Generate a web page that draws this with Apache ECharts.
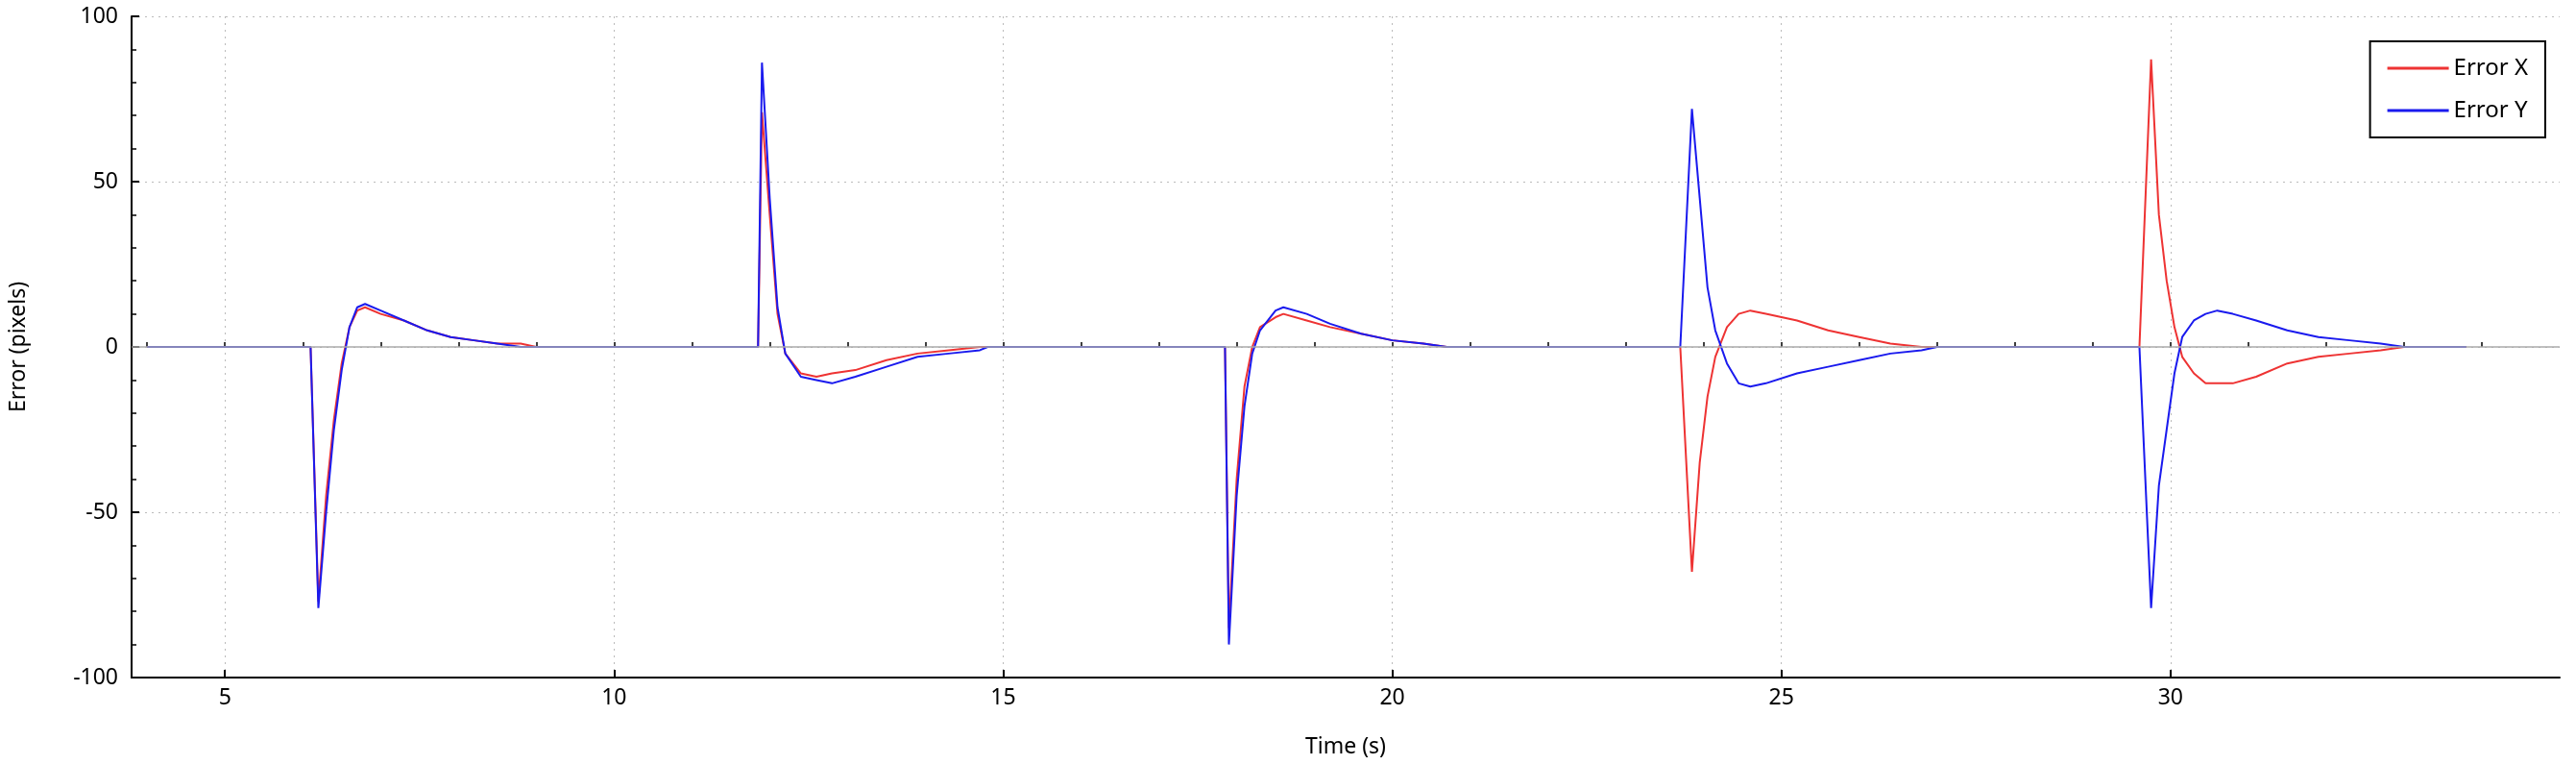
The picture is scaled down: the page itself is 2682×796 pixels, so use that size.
<!DOCTYPE html>
<html lang="en">
<head>
    <meta charset="UTF-8">
    <title>Error</title>
    <script src="https://cdn.jsdelivr.net/npm/echarts@6/dist/echarts.min.js"></script>
</head>
<body style="margin:0">
<div id="main" style="width: 2682px; height: 796px"></div>
</body>
<script>
    let times = [4.0, 6.1, 6.2, 6.3, 6.4, 6.5, 6.6, 6.7, 6.8, 7.0, 7.3, 7.6, 7.9, 8.2, 8.5, 8.8, 9.0,
        11.85, 11.9, 12.0, 12.1, 12.2, 12.4, 12.6, 12.8, 13.1, 13.5, 13.9, 14.3, 14.7, 14.8,
        17.85, 17.9, 18.0, 18.1, 18.2, 18.3, 18.5, 18.6, 18.9, 19.2, 19.6, 20.0, 20.4, 20.7,
        23.7, 23.85, 23.95, 24.05, 24.15, 24.3, 24.45, 24.6, 24.8, 25.2, 25.6, 26.0, 26.4, 26.8, 27.0,
        29.6, 29.75, 29.85, 29.95, 30.05, 30.15, 30.3, 30.45, 30.6, 30.8, 31.1, 31.5, 31.9, 32.3, 32.7, 33.0, 33.8];
    let errorX = [0, 0, -77, -45, -22, -5, 6, 11, 12, 10, 8, 5, 3, 2, 1, 1, 0,
        0, 71, 40, 10, -2, -8, -9, -8, -7, -4, -2, -1, 0, 0,
        0, -85, -40, -12, 0, 6, 9, 10, 8, 6, 4, 2, 1, 0,
        0, -68, -35, -15, -3, 6, 10, 11, 10, 8, 5, 3, 1, 0, 0,
        0, 87, 40, 20, 6, -3, -8, -11, -11, -11, -9, -5, -3, -2, -1, 0, 0];
    let errorY = [0, 0, -79, -50, -25, -7, 6, 12, 13, 11, 8, 5, 3, 2, 1, 0, 0,
        0, 86, 45, 12, -2, -9, -10, -11, -9, -6, -3, -2, -1, 0,
        0, -90, -45, -18, -2, 5, 11, 12, 10, 7, 4, 2, 1, 0,
        0, 72, 45, 18, 5, -5, -11, -12, -11, -8, -6, -4, -2, -1, 0,
        0, -79, -42, -25, -8, 3, 8, 10, 11, 10, 8, 5, 3, 2, 1, 0, 0];
    let majorTicks = [5, 10, 15, 20, 25, 30];
    let minorTicks = [];
    for (let t = 4; t <= 34; t++) minorTicks.push(t);

    let font = 'Noto Sans';
    let myChart = echarts.init(document.getElementById('main'));
    let option = {
        animation: false,
        textStyle: {fontFamily: font},
        grid: {left: 137, right: 17, top: 17, bottom: 91},
        legend: {
            orient: 'vertical', right: 32, top: 43,
            borderColor: '#000', borderWidth: 2, padding: [16, 18, 16, 18],
            itemWidth: 64, itemHeight: 3, itemGap: 20,
            icon: 'rect',
            textStyle: {fontSize: 24, color: '#000', fontFamily: font},
            data: ['Error X', 'Error Y']
        },
        xAxis: [
            {
                type: 'value', min: 3.8, max: 35,
                name: 'Time (s)', nameLocation: 'middle', nameGap: 61,
                nameTextStyle: {fontSize: 23, color: '#000'},
                axisLine: {onZero: false, lineStyle: {color: '#000', width: 2}},
                axisTick: {show: true, length: 8, inside: true, customValues: majorTicks,
                    lineStyle: {color: '#000', width: 2}},
                axisLabel: {fontSize: 23, color: '#000', margin: 10, customValues: majorTicks},
                splitLine: {show: true, lineStyle: {color: '#bbb', type: [2, 5]}}
            },
            {
                type: 'value', min: 3.8, max: 35, position: 'bottom',
                axisLine: {show: false},
                axisTick: {show: true, length: 5, inside: true, customValues: minorTicks,
                    lineStyle: {color: '#000', width: 1.5}},
                axisLabel: {show: false},
                splitLine: {show: false}
            }
        ],
        yAxis: {
            type: 'value', min: -100, max: 100, interval: 50,
            name: 'Error (pixels)', nameLocation: 'middle', nameGap: 106,
            nameTextStyle: {fontSize: 23, color: '#000'},
            axisLine: {show: true, lineStyle: {color: '#000', width: 2}},
            axisTick: {show: true, length: 8, inside: true, lineStyle: {color: '#000', width: 2}},
            minorTick: {show: true, splitNumber: 5, length: 5, lineStyle: {color: '#000', width: 1.5}},
            axisLabel: {fontSize: 23, color: '#000', margin: 14},
            splitLine: {show: true, lineStyle: {color: '#bbb', type: [2, 5]}}
        },
        series: [
            {
                name: 'Error X', type: 'line', showSymbol: false,
                data: times.map((t, i) => [t, errorX[i]]),
                lineStyle: {color: '#ee3333', width: 2}, itemStyle: {color: '#ee3333'},
                markLine: {
                    silent: true, symbol: 'none', label: {show: false},
                    lineStyle: {color: '#aaa', type: 'solid', width: 1.5},
                    data: [{yAxis: 0}]
                }
            },
            {
                name: 'Error Y', type: 'line', showSymbol: false,
                data: times.map((t, i) => [t, errorY[i]]),
                lineStyle: {color: '#1a1aee', width: 2}, itemStyle: {color: '#1a1aee'}
            }
        ]
    };
    myChart.setOption(option);
</script>
</html>
